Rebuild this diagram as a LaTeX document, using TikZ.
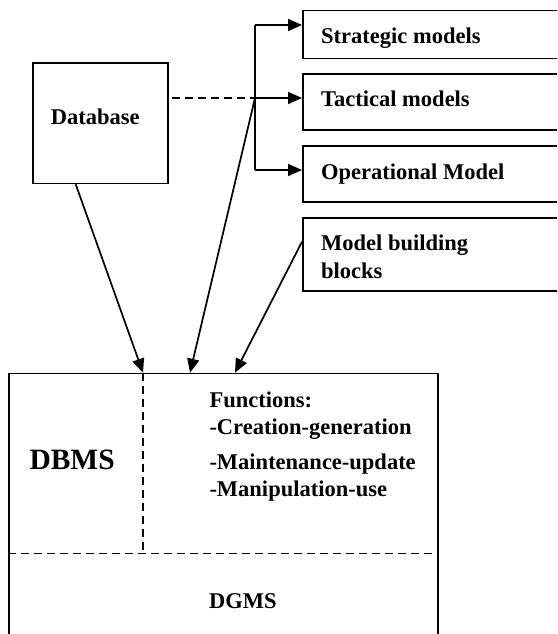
\documentclass[tikz,border=0pt]{standalone}
\usepackage{fontspec}
\setmainfont{Liberation Serif}
\usetikzlibrary{arrows.meta,calc}
\tikzset{
  box/.style={draw, line width=1.5pt, inner sep=0pt, anchor=north west},
  txt/.style={anchor=base west, inner sep=0pt, font=\bfseries\fontsize{22.5}{27}\selectfont},
  bigtxt/.style={anchor=base west, inner sep=0pt, font=\bfseries\fontsize{29.5}{34}\selectfont},
  arr/.style={line width=1.7pt, -{Triangle[length=14pt,width=12pt]}},
  plain/.style={line width=1.7pt},
  dsh/.style={line width=1.5pt, dash pattern=on 8pt off 5pt}
}
\begin{document}
\begin{tikzpicture}[x=1pt,y=1pt]
\clip (0,0) rectangle (557,-634);
% boxes
\node[box, minimum width=135pt, minimum height=120.4pt] (db) at (32,-62.3) {};
\node[box, minimum width=300pt, minimum height=47.7pt] (strat) at (302,-10) {};
\node[box, minimum width=300pt, minimum height=56pt] (tact) at (302,-73.3) {};
\node[box, minimum width=300pt, minimum height=56pt] (oper) at (302,-145) {};
\node[box, minimum width=300pt, minimum height=72.7pt] (mbb) at (302,-217.3) {};
\node[box, minimum width=429pt, minimum height=300pt] (main) at (8.3,-372.7) {};
% texts
\node[txt] (tstrat) at (321,-43.3) {Strategic models};
\node[txt] (ttact) at (321,-106.7) {Tactical models};
\node[txt] (toper) at (321,-179.3) {Operational Model};
\node[txt] (tmbb1) at (321,-250.7) {Model building};
\node[txt] (tmbb2) at (321,-278.3) {blocks};
\node[txt] (tdb) at (50.7,-124.3) {Database};
\node[txt] (tf0) at (209.3,-407.3) {Functions:};
\node[txt] (tf1) at (209.3,-434) {-Creation-generation};
\node[txt] (tf2) at (209.3,-469) {-Maintenance-update};
\node[txt] (tf3) at (209.3,-496.7) {-Manipulation-use};
\node[bigtxt] (tdbms) at (29.3,-469) {DBMS};
\node[txt] (tdgms) at (209,-608.3) {DGMS};
% coordinates
\coordinate (bt) at (255,-25);
\coordinate (bm) at (255,-98);
\coordinate (bb) at (255,-170);
\coordinate (dbout) at ($(db.south west)!0.32!(db.south east)$);
\coordinate (mbbout) at (mbb.west |- 0,-241.7);
\coordinate (m1) at ($(main.north west)+(134.7,0)$);
\coordinate (m2) at ($(main.north west)+(181.7,0)$);
\coordinate (m3) at ($(main.north west)+(226.7,0)$);
\coordinate (dashbot) at ($(main.north west)+(134.7,-180.6)$);
\coordinate (hl) at ($(main.north west)+(0,-180.6)$);
\coordinate (hr) at ($(main.north east)+(0,-180.6)$);
% bracket
\draw[plain] (bt) -- (bb);
\draw[arr] (bt) -- (strat.west |- bt);
\draw[arr] (bm) -- (tact.west |- bm);
\draw[arr] (bb) -- (oper.west |- bb);
\draw[dsh] ($(db.east |- bm)+(3,0)$) -- (bm);
% arrows to main
\draw[arr] (dbout) -- (m1);
\draw[arr] (bm) -- (m2);
\draw[arr] (mbbout) -- (m3);
% dashed separators
\draw[dsh] (m1) -- (dashbot);
\draw[dsh] (hl) -- (hr);
\end{tikzpicture}
\end{document}
